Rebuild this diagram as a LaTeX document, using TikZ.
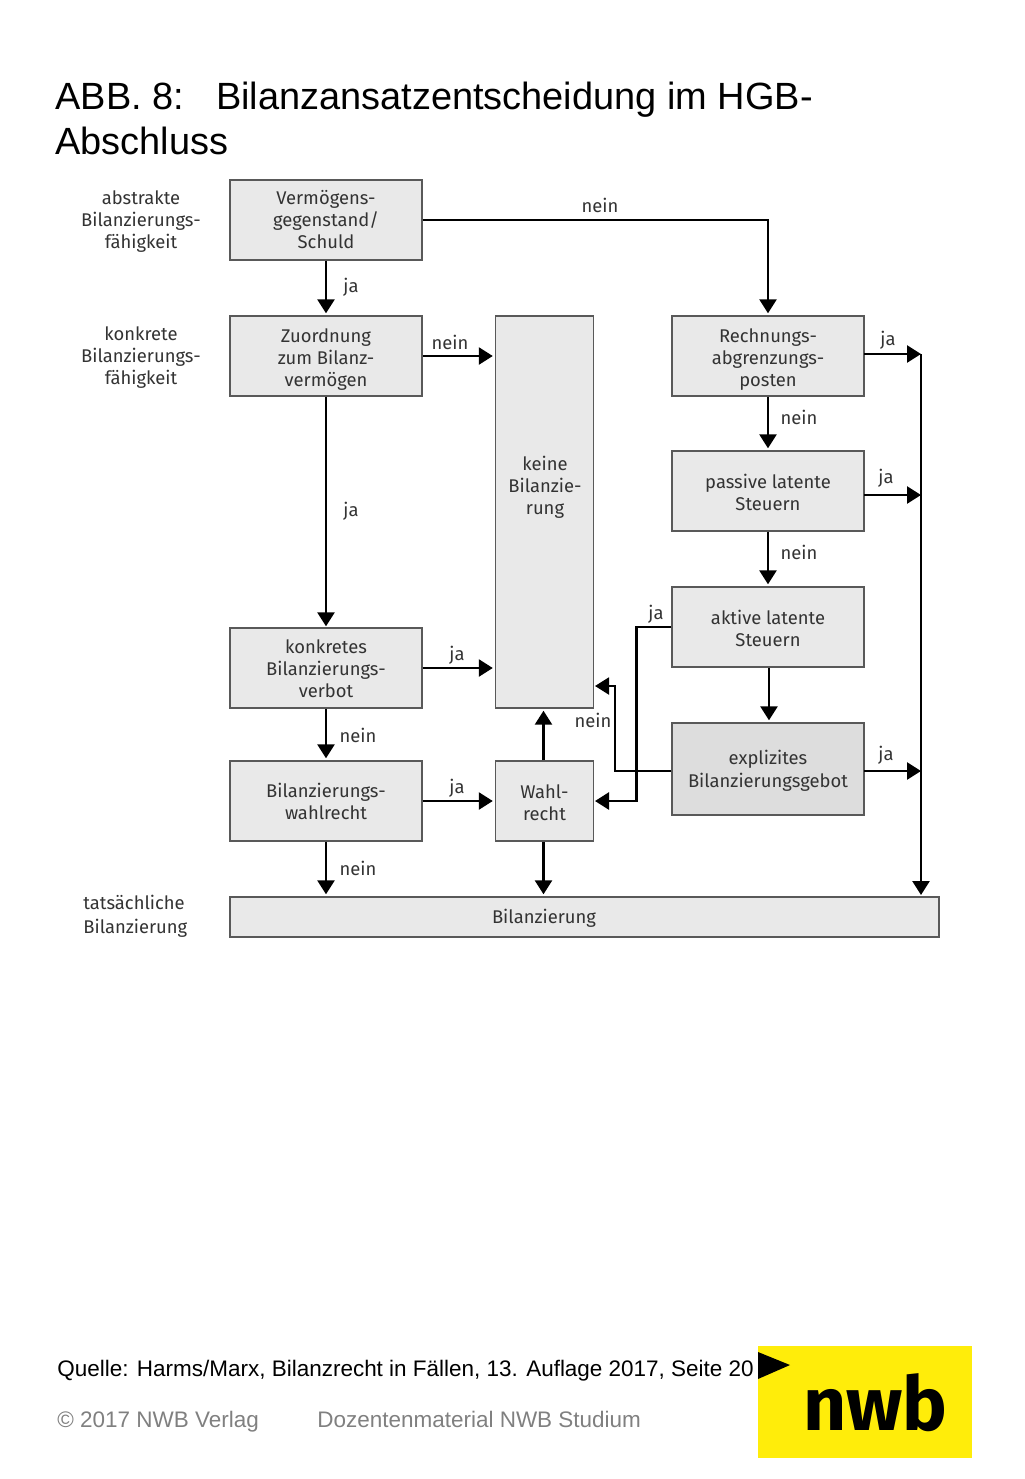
\documentclass[tikz,border=0pt]{standalone}
\usepackage{fontspec}
\setmainfont{Liberation Sans}
\newfontfamily\boxfont{Fira Sans}
\usetikzlibrary{arrows.meta}
\definecolor{boxgray}{HTML}{E9E9E9}
\definecolor{boxdark}{HTML}{DDDDDD}
\definecolor{textdark}{HTML}{333333}
\definecolor{logoyellow}{HTML}{FFED0A}
\newcommand{\lowline}[1]{\rule{0pt}{#1}}
\begin{document}
\begin{tikzpicture}[x=0.5pt,y=-0.5pt,>={Triangle[width=8.5pt,length=7pt]},
    flowbox/.style={draw=black!65,fill=boxgray,line width=0.7pt,inner sep=0pt,align=center,text=textdark,
      font=\boxfont\fontsize{9.2}{11}\selectfont},
    wide/.style={flowbox,minimum width=96pt,minimum height=40pt},
    narrow/.style={flowbox,minimum width=49pt,minimum height=40pt},
    lab/.style={inner sep=0pt,align=center,text=textdark,font=\boxfont\fontsize{9.2}{11}\selectfont},
    conn/.style={->,line width=1.3pt,shorten >=1pt},
    title/.style={inner sep=0pt,anchor=base west,font=\fontsize{18.97}{23}\selectfont},
    foot/.style={inner sep=0pt,anchor=base west,font=\fontsize{11.24}{14}\selectfont}]
  \useasboundingbox (0,0) rectangle (1024,1479);

  % Titel
  \node[title] (head1) at (55,109) {ABB. 8:\hspace{16pt}Bilanzansatzentscheidung im HGB-};
  \node[title] (head2) at (55,154) {Abschluss};

  % Kästen
  \node[wide] (verm) at (326,220) {Vermögens-\\gegenstand/\\Schuld};
  \node[wide] (zuord) at (326,356) {\lowline{10pt}Zuordnung\\zum Bilanz-\\vermögen};
  \node[wide] (verbot) at (326,668) {\lowline{8pt}konkretes\\Bilanzierungs-\\verbot};
  \node[wide] (wahlr) at (326,801) {Bilanzierungs-\\wahlrecht};
  \node[narrow,minimum height=196pt] (keine) at (544.5,512) {};
  \node[narrow] (wahl) at (544.5,801) {\lowline{9pt}Wahl-\\recht};
  \node[wide] (rap) at (768,356) {\lowline{10pt}Rechnungs-\\abgrenzungs-\\posten};
  \node[wide] (passiv) at (768,491) {\lowline{9pt}passive latente\\Steuern};
  \node[wide] (aktiv) at (768,627) {\lowline{9pt}aktive latente\\Steuern};
  \node[wide,minimum height=46pt,fill=boxdark] (expl) at (768,769) {\lowline{9pt}explizites\\[0.5pt]Bilanzierungsgebot};
  \node[flowbox,minimum width=354.5pt,minimum height=20pt] (bilanz) at (584.5,917) {};

  % Texte, die nicht mittig stehen
  \node[lab] (keinetxt) at (545,487) {keine\\Bilanzie-\\rung};
  \node[lab] (bilanztxt) at (544,918) {Bilanzierung};

  % Beschriftung links
  \node[lab] (abstr) at (141,222) {abstrakte\\Bilanzierungs-\\fähigkeit};
  \node[lab] (konkr) at (141,358) {konkrete\\Bilanzierungs-\\fähigkeit};
  \node[lab,align=left,anchor=west,font=\boxfont\fontsize{9.2}{12}\selectfont] (tats) at (83,916) {tatsächliche\\Bilanzierung};

  % Hilfspunkte
  \coordinate (railtop) at (921,354);
  \coordinate (railbot) at (921,897);
  \coordinate (railmid) at (921,495);
  \coordinate (railexp) at (921,771);
  \coordinate (railrap) at (864,354);
  \coordinate (railpas) at (864,495);
  \coordinate (railexl) at (864,771);
  \coordinate (keinein) at (593,686);
  \coordinate (wahlin) at (593,801);

  % Pfeile
  \draw[conn] (verm.east) -| (rap.north);
  \draw[conn] (verm.south) -- (zuord.north);
  \draw[conn] (zuord.east) -- (keine.west |- zuord.east);
  \draw[conn,shorten >=0.5pt] (zuord.south) -- (verbot.north);
  \draw[conn] (verbot.east) -- (keine.west |- verbot.east);
  \draw[conn] (verbot.south) -- (wahlr.north);
  \draw[conn] (wahlr.east) -- (wahl.west);
  \draw[conn] (wahlr.south) -- (bilanz.north -| wahlr.south);
  \draw[conn] ([xshift=-0.5pt]wahl.north) -- ([xshift=-0.5pt]keine.south);
  \draw[conn] ([xshift=-0.5pt]wahl.south) -- ([xshift=-0.5pt]bilanz.north -| wahl.south);
  \draw[conn] (rap.south) -- (passiv.north);
  \draw[conn] (passiv.south) -- (aktiv.north);
  \draw[conn] ([xshift=0.5pt]aktiv.south) -- ([xshift=0.5pt]expl.north);
  \draw[conn,shorten >=0pt] (railrap) -- (railtop);
  \draw[conn,shorten >=0pt] (railpas) -- (railmid);
  \draw[conn,shorten >=0pt] (railexl) -- (railexp);
  \draw[conn] (railtop) -- (railbot);
  \draw[conn] (aktiv.west) -- ++(-35,0) |- (wahlin);
  \draw[conn,line width=1pt] (expl.west |- railexp) -- ++(-56,0) |- (keinein);

  % Beschriftung Pfeile
  \node[lab] (l1) at (600,205) {nein};
  \node[lab] (l2) at (351,287) {ja};
  \node[lab] (l3) at (450,342) {nein};
  \node[lab] (l4) at (351,511) {ja};
  \node[lab] (l5) at (457,655) {ja};
  \node[lab] (l6) at (358,735) {nein};
  \node[lab] (l7) at (457,788) {ja};
  \node[lab] (l8) at (358,868) {nein};
  \node[lab] (l9) at (593,720) {nein};
  \node[lab] (l10) at (656,614) {ja};
  \node[lab] (l11) at (799,417) {nein};
  \node[lab] (l12) at (799,552) {nein};
  \node[lab] (l13) at (888,340) {ja};
  \node[lab] (l14) at (886,478) {ja};
  \node[lab] (l15) at (886,755) {ja};

  % Fusszeile
  \node[foot] (quelle) at (57,1376) {Quelle: Harms/Marx, Bilanzrecht in Fällen, 13. Auflage 2017, Seite 20};
  \node[foot,text=black!50] (copy) at (57,1427) {© 2017 NWB Verlag};
  \node[foot,text=black!50] (doz) at (317,1427) {Dozentenmaterial NWB Studium};

  % Logo
  \fill[logoyellow] (758,1346) rectangle (972,1458);
  \fill[black] (758,1352) -- (790,1365) -- (758,1379) -- cycle;
  \node[inner sep=0pt,font=\boxfont\bfseries\fontsize{37.5}{37.5}\selectfont] (logo) at (875.5,1403) {nwb};
\end{tikzpicture}
\end{document}
